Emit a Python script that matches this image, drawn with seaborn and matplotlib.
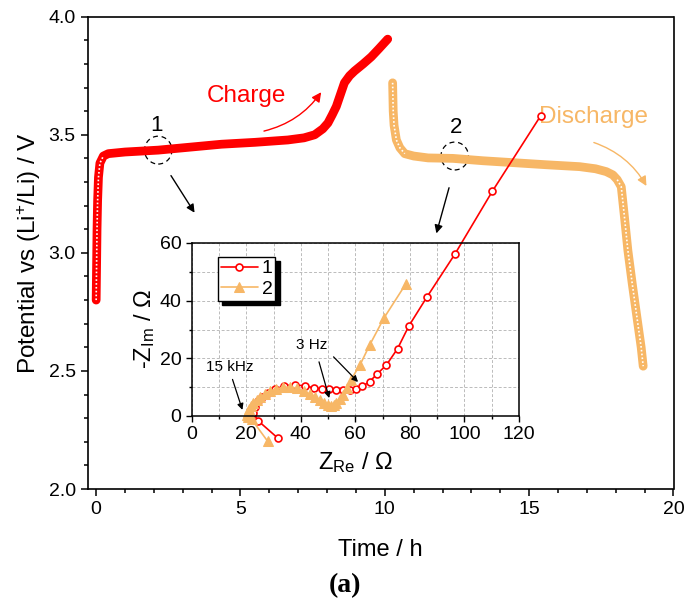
import numpy as np
import pandas as pd
import matplotlib
matplotlib.use('Agg')
import matplotlib.pyplot as plt
import seaborn as sns
from matplotlib.patches import Ellipse
from matplotlib.ticker import MultipleLocator

# ---------------- data ----------------
charge_time = [0.0, 0.01, 0.02, 0.03, 0.05, 0.08, 0.13, 0.25, 0.42, 1.0, 2.15, 3.2,
               4.34, 5.5, 6.64, 7.2, 7.57, 7.85, 8.03, 8.18, 8.32, 8.46, 8.6, 8.78,
               8.95, 9.25, 9.53, 9.8, 10.1]
charge_volt = [2.80, 2.90, 3.00, 3.10, 3.22, 3.32, 3.38, 3.41, 3.42, 3.427, 3.435, 3.447,
               3.46, 3.468, 3.478, 3.487, 3.50, 3.525, 3.55, 3.585, 3.62, 3.67, 3.72, 3.75,
               3.77, 3.80, 3.83, 3.865, 3.905]

discharge_time = [10.27, 10.28, 10.29, 10.32, 10.4, 10.52, 10.69, 11.0, 11.5, 12.36, 13.4,
                  14.44, 15.6, 16.75, 17.3, 17.67, 17.9, 18.05, 18.19, 18.3, 18.42, 18.57,
                  18.73, 18.88, 18.95]
discharge_volt = [3.72, 3.66, 3.60, 3.54, 3.478, 3.445, 3.42, 3.41, 3.402, 3.40, 3.39,
                  3.382, 3.373, 3.365, 3.356, 3.344, 3.33, 3.31, 3.28, 3.153, 3.01, 2.87,
                  2.73, 2.60, 2.52]

eis1_zre = [31.5, 24.4, 22.6, 23.2, 24.4, 25.9, 27.8, 30.5, 34.0, 37.9, 41.6, 44.8, 47.6,
            50.3, 52.9, 55.6, 58.0, 60.4, 62.6, 65.2, 67.8, 71.4, 75.5, 79.6, 86.2, 96.6,
            110.2, 128.0]
eis1_zim = [-7.6, -1.7, 1.0, 3.2, 5.2, 6.7, 8.0, 9.3, 10.5, 10.8, 10.4, 9.8, 9.4,
            9.2, 9.0, 9.0, 9.0, 9.5, 10.3, 11.9, 14.4, 17.7, 23.4, 31.2, 41.2, 56.3,
            77.9, 104.2]

eis2_zre = [27.8, 22.0, 20.6, 20.2, 20.5, 21.0, 21.7, 22.6, 23.8, 25.2, 26.8, 28.6, 30.8,
            33.3, 36.0, 38.6, 41.0, 43.2, 45.2, 47.0, 48.6, 49.9, 51.0, 52.0, 53.0, 54.2,
            55.6, 57.0, 58.4, 61.7, 65.3, 70.5, 78.5]
eis2_zim = [-8.7, -1.2, -0.3, 0.5, 1.5, 2.5, 3.5, 4.5, 5.6, 6.7, 7.6, 8.5, 9.3,
            9.9, 10.1, 9.6, 8.7, 7.6, 6.5, 5.4, 4.5, 3.9, 3.6, 3.8, 4.6, 5.8,
            7.4, 9.8, 12.6, 17.7, 24.7, 34.0, 45.8]

series_labels = ['1', '2']
x_ticks_main = [0, 5, 10, 15, 20]
y_ticks_main = [2.0, 2.5, 3.0, 3.5, 4.0]

RED = '#FF0000'
ORANGE = '#F7B766'

# ---------------- style ----------------
sns.set_style('ticks')
plt.rcParams['font.family'] = ['Liberation Sans', 'DejaVu Sans']
plt.rcParams['mathtext.fontset'] = 'custom'
plt.rcParams['mathtext.rm'] = 'Liberation Sans'
plt.rcParams['mathtext.it'] = 'Liberation Sans:italic'
plt.rcParams['axes.linewidth'] = 1.2
for k in ['text.color', 'axes.labelcolor', 'xtick.color', 'ytick.color', 'axes.edgecolor']:
    plt.rcParams[k] = 'black'

fig = plt.figure(figsize=(6.86, 6.10), dpi=100)
ax = fig.add_axes([87.5 / 686, 1 - 489 / 610, (673.5 - 87.5) / 686, (489 - 16.7) / 610])

# main curves
sns.lineplot(x=charge_time, y=charge_volt, sort=False, estimator=None, color=RED,
             linewidth=6.3, solid_capstyle='round', ax=ax)
sns.lineplot(x=discharge_time, y=discharge_volt, sort=False, estimator=None, color=ORANGE,
             linewidth=6.3, solid_capstyle='round', ax=ax)
# hollow-marker look on the steep parts
ax.plot(charge_time[:8], charge_volt[:8], color='white', lw=1.2, ls=(0, (1, 1.3)))
ax.plot(discharge_time[:7], discharge_volt[:7], color='white', lw=1.2, ls=(0, (1, 1.3)))
ax.plot(discharge_time[17:], discharge_volt[17:], color='white', lw=1.2, ls=(0, (1, 1.3)))
if ax.get_legend() is not None:
    ax.get_legend().remove()

ax.set_xlim(-0.3, 20)
ax.set_ylim(2.0, 4.0)
ax.set_xticks(x_ticks_main)
ax.set_xticklabels([str(v) for v in x_ticks_main])
ax.set_yticks(y_ticks_main)
ax.set_yticklabels([f'{v:.1f}' for v in y_ticks_main])
ax.xaxis.set_minor_locator(MultipleLocator(1))
ax.yaxis.set_minor_locator(MultipleLocator(0.1))
ax.tick_params(which='both', direction='out', width=1.1, labelsize=14, top=False, right=False,
               colors='black')
ax.tick_params(which='major', length=5)
ax.tick_params(which='minor', length=3)
for s in ax.spines.values():
    s.set_visible(True)
    s.set_linewidth(1.2)
    s.set_color('black')
ax.set_xlabel('Time / h', fontsize=17, labelpad=15)
ax.set_ylabel('Potential vs (Li$^{+}$/Li) / V', fontsize=17.5, labelpad=4)

# annotations on main plot
ax.text(5.19, 3.664, 'Charge', color=RED, fontsize=17.5, ha='center', va='center')
ax.text(17.22, 3.577, 'Discharge', color=ORANGE, fontsize=17.5, ha='center', va='center')
ax.annotate('', xy=(7.85, 3.69), xytext=(5.72, 3.513),
            arrowprops=dict(arrowstyle='-|>', color=RED, lw=1.0, mutation_scale=14,
                            connectionstyle='arc3,rad=0.2'))
ax.annotate('', xy=(19.11, 3.273), xytext=(17.15, 3.471),
            arrowprops=dict(arrowstyle='-|>', color=ORANGE, lw=1.0, mutation_scale=14,
                            connectionstyle='arc3,rad=-0.2'))
ax.text(2.09, 3.54, '1', fontsize=16, ha='center', va='center')
ax.text(12.46, 3.532, '2', fontsize=16, ha='center', va='center')
ax.add_patch(Ellipse((2.15, 3.435), 0.95, 0.118, fill=False, ec='black', lw=0.9, ls=(0, (4, 3))))
ax.add_patch(Ellipse((12.42, 3.41), 0.95, 0.118, fill=False, ec='black', lw=0.9, ls=(0, (4, 3))))
ax.annotate('', xy=(3.46, 3.16), xytext=(2.54, 3.337),
            arrowprops=dict(arrowstyle='-|>', color='black', lw=1.0, mutation_scale=12))
ax.annotate('', xy=(11.76, 3.071), xytext=(12.25, 3.287),
            arrowprops=dict(arrowstyle='-|>', color='black', lw=1.0, mutation_scale=12))

# ---------------- inset ----------------
axin = fig.add_axes([191.7 / 686, 1 - 416 / 610, (519 - 191.7) / 686, (416 - 243) / 610])
axin.set_facecolor('white')
sns.lineplot(x=eis1_zre, y=eis1_zim, sort=False, estimator=None, color=RED, lw=1.2,
             marker='o', markersize=5, markerfacecolor='white', markeredgecolor=RED,
             markeredgewidth=1.2, label=series_labels[0], ax=axin)
sns.lineplot(x=eis2_zre, y=eis2_zim, sort=False, estimator=None, color=ORANGE, lw=1.2,
             marker='^', markersize=7, markerfacecolor=ORANGE, markeredgecolor=ORANGE,
             label=series_labels[1], ax=axin)
for ln in axin.lines:
    ln.set_clip_on(False)
axin.set_xlim(0, 120)
axin.set_ylim(0, 60)
axin.xaxis.set_major_locator(MultipleLocator(20))
axin.xaxis.set_minor_locator(MultipleLocator(10))
axin.yaxis.set_major_locator(MultipleLocator(20))
axin.yaxis.set_minor_locator(MultipleLocator(10))
axin.grid(which='both', ls=(0, (3, 2)), color='#BBBBBB', lw=0.7)
axin.set_axisbelow(True)
axin.tick_params(which='both', direction='out', width=1.0, labelsize=14, top=False, right=False,
                 colors='black')
axin.tick_params(which='major', length=4)
axin.tick_params(which='minor', length=2.5)
for s in axin.spines.values():
    s.set_visible(True)
    s.set_linewidth(1.1)
    s.set_color('black')
axin.set_xlabel(r'Z$_{\mathrm{Re}}$ / Ω', fontsize=17, labelpad=5)
axin.set_ylabel(r'-Z$_{\mathrm{Im}}$ / Ω', fontsize=17, labelpad=2)

axin.text(14.0, 17.0, '15 kHz', fontsize=11, ha='center', va='center')
axin.text(44.0, 24.7, '3 Hz', fontsize=11, ha='center', va='center')
axin.annotate('', xy=(18.9, 1.2), xytext=(14.65, 13.6),
              arrowprops=dict(arrowstyle='-|>', color='black', lw=0.9, mutation_scale=9))
axin.annotate('', xy=(50.7, 5.3), xytext=(46.4, 19.7),
              arrowprops=dict(arrowstyle='-|>', color='black', lw=0.9, mutation_scale=9))
axin.annotate('', xy=(61.7, 11.1), xytext=(51.3, 21.2),
              arrowprops=dict(arrowstyle='-|>', color='black', lw=0.9, mutation_scale=9))

leg = axin.legend(loc='upper left', bbox_to_anchor=(0.08, 0.92), borderaxespad=0,
                  fontsize=14, frameon=True, fancybox=False, edgecolor='black',
                  framealpha=1, handlelength=1.9, handletextpad=0.2, borderpad=0.15,
                  labelspacing=0.15,
                  shadow={'ox': 3, 'oy': -3, 'color': 'black', 'alpha': 1})
leg.get_frame().set_linewidth(1.0)
for t in leg.get_texts():
    t.set_color('black')

fig.text(345 / 686, 1 - 586 / 610, '(a)', fontsize=20, fontweight='bold',
         family='Liberation Serif', ha='center', va='center', color='black')

fig.savefig('out.png', dpi=100)
